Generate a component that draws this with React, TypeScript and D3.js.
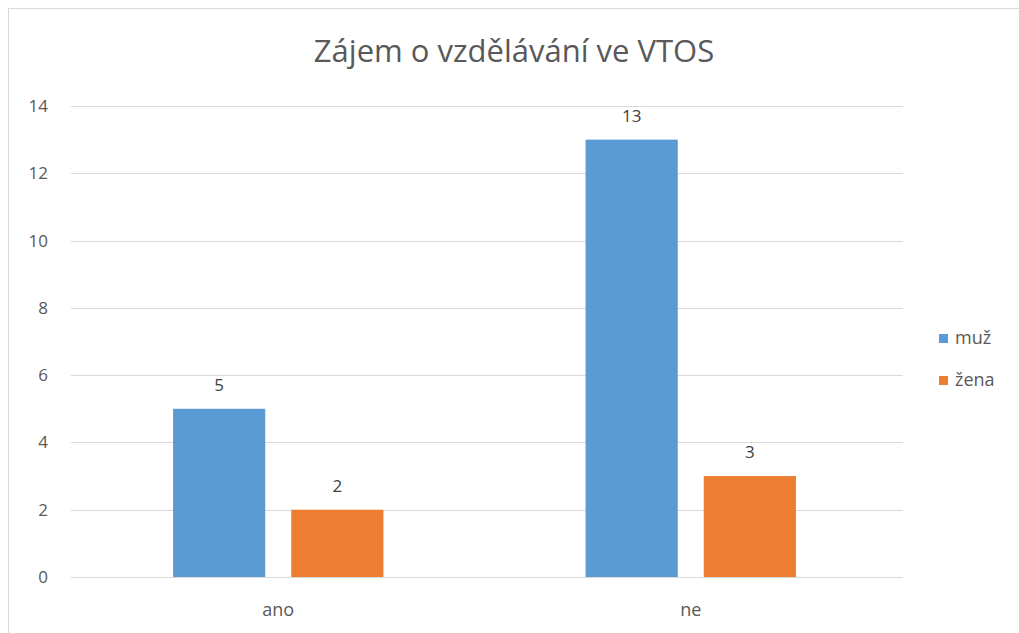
import React from 'react';
import * as d3 from 'd3';

const categories = ['ano', 'ne'];
const seriesNames = ['muž', 'žena'];
const muz = [5, 13];
const zena = [2, 3];
const yTicks = [0, 2, 4, 6, 8, 10, 12, 14];
const colors = ['#5B9BD5', '#ED7D31'];

const W = 1019;
const H = 633;
const FONT = '"Open Sans", "Noto Sans", sans-serif';

export default function App() {
  const values = [muz, zena];

  // category bands, grid runs a bit wider than the bands
  const x0 = d3.scaleBand<string>()
    .domain(categories)
    .range([72, 897])
    .paddingInner(0.49)
    .paddingOuter(0.245);

  const x1 = d3.scaleBand<string>()
    .domain(seriesNames)
    .range([0, x0.bandwidth()])
    .paddingInner(0.22);

  const y = d3.scaleLinear().domain([0, 14]).range([577, 106]);

  return (
    <svg width={W} height={H} style={{ position: 'absolute', left: 0, top: 0 }}>
      <rect x={0} y={0} width={W} height={H} fill="#fff" />
      <rect x={8.5} y={8.5} width={W + 10} height={H + 10} fill="none" stroke="#d9d9d9" />

      <text x={514} y={62} textAnchor="middle" fontFamily={FONT} fontSize={31} fill="#595959">
        Zájem o vzdělávání ve VTOS
      </text>

      {yTicks.map(t => (
        <g key={t}>
          <line x1={71} x2={903} y1={Math.round(y(t)) + 0.5} y2={Math.round(y(t)) + 0.5} stroke="#d9d9d9" />
          <text x={48} y={y(t) + 6} textAnchor="end" fontFamily={FONT} fontSize={17} fill="#595959">
            {t}
          </text>
        </g>
      ))}

      {categories.map((c, ci) => (
        <g key={c} transform={`translate(${x0(c)},0)`}>
          {seriesNames.map((s, si) => {
            const v = values[si][ci];
            const bx = x1(s)!;
            return (
              <g key={s}>
                <rect x={bx} y={y(v)} width={x1.bandwidth()} height={y(0) - y(v)} fill={colors[si]} />
                <text x={bx + x1.bandwidth() / 2} y={y(v) - 18} textAnchor="middle" fontFamily={FONT} fontSize={17} fill="#404040">
                  {v}
                </text>
              </g>
            );
          })}
          <text x={x0.bandwidth() / 2} y={616} textAnchor="middle" fontFamily={FONT} fontSize={18} fill="#595959">
            {c}
          </text>
        </g>
      ))}

      {seriesNames.map((s, i) => (
        <g key={s} transform={`translate(939,${338 + i * 42})`}>
          <rect x={0} y={-4} width={9} height={9} fill={colors[i]} />
          <text x={16} y={6} fontFamily={FONT} fontSize={18} fill="#595959">{s}</text>
        </g>
      ))}
    </svg>
  );
}
